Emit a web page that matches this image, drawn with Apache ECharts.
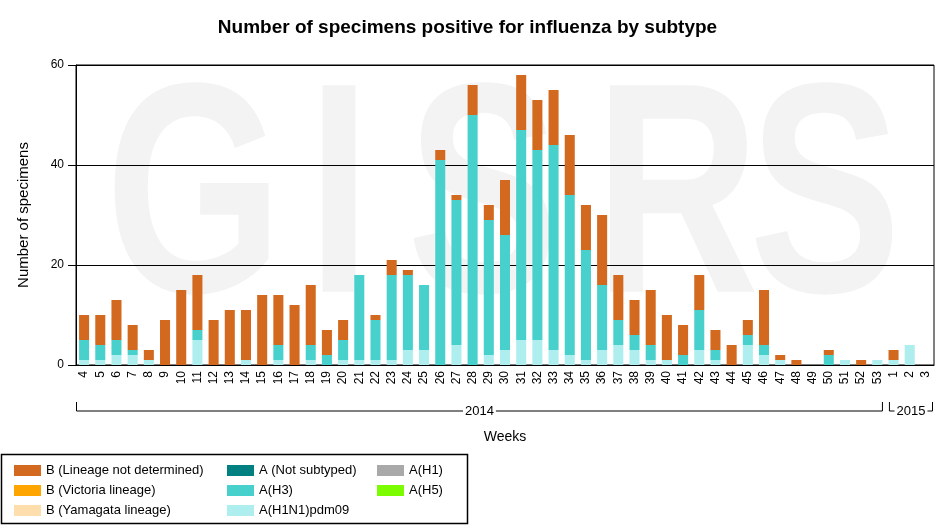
<!DOCTYPE html>
<html>
<head>
<meta charset="utf-8">
<script src="https://cdn.jsdelivr.net/npm/echarts@6/dist/echarts.min.js"></script>
<style>
  html, body { margin: 0; padding: 0; background: #fff; }
  #chart { width: 935px; height: 529px; }
</style>
</head>
<body>
<div id="chart"></div>
<script>
// ---- data ----
const weeks = ['4','5','6','7','8','9','10','11','12','13','14','15','16','17','18','19','20','21','22','23','24','25','26','27','28','29','30','31','32','33','34','35','36','37','38','39','40','41','42','43','44','45','46','47','48','49','50','51','52','53','1','2','3'];
const yearLabels = ['2014', '2015'];
const yearWeekCounts = [50, 3];

const pdm09 = [1,1,2,2,1,0,0,5,0,0,1,0,1,0,1,0,1,1,1,1,3,3,0,4,0,2,3,5,5,3,2,1,3,4,3,1,1,0,3,1,0,4,2,1,0,0,0,1,0,1,1,4,0];
const h3    = [4,3,3,1,0,0,0,2,0,0,0,0,3,0,3,2,4,17,8,17,15,13,41,29,50,27,23,42,38,41,32,22,13,5,3,3,0,2,8,2,0,2,2,0,0,0,2,0,0,0,0,0,0];
const bNotDetermined = [5,6,8,5,2,9,15,11,9,11,10,14,10,12,12,5,4,0,1,3,1,0,2,1,6,3,11,11,10,11,12,9,14,9,7,11,9,6,7,4,4,3,11,1,1,0,1,0,1,0,2,0,0];
const aNotSubtyped = [];
const aH1 = [];
const aH5 = [];
const bVictoria = [];
const bYamagata = [];

const yTicks = { min: 0, max: 60, interval: 20 };

const names = {
  bND: 'B (Lineage not determined)',
  bVic: 'B (Victoria lineage)',
  bYam: 'B (Yamagata lineage)',
  aNS: 'A (Not subtyped)',
  aH3: 'A(H3)',
  pdm: 'A(H1N1)pdm09',
  aH1: 'A(H1)',
  aH5: 'A(H5)'
};
const colors = {
  bND: '#d2691e', bVic: '#ffa500', bYam: '#ffdead',
  aNS: '#008080', aH3: '#48d1cc', pdm: '#afeeee',
  aH1: '#a9a9a9', aH5: '#7cfc00'
};

const FONT = 'Liberation Sans, Arial, sans-serif';
const chart = echarts.init(document.getElementById('chart'), null, { renderer: 'canvas' });

function bar(key, data) {
  return {
    name: names[key], type: 'bar', stack: 'total', data: data,
    barWidth: '62%',
    itemStyle: { color: colors[key] },
    emphasis: { disabled: true }
  };
}

const legendCommon = {
  orient: 'vertical', padding: 0, itemWidth: 27, itemHeight: 11, itemGap: 7,
  icon: 'rect', selectedMode: false, top: 464,
  textStyle: { fontSize: 13, color: '#000', fontFamily: FONT, lineHeight: 12 }
};

// watermark letters (decoration)
const wm = [['G',194],['I',339],['S',483],['R',677],['S',825]].map((l, i) => ({
  id: 'wm' + i, type: 'text', x: l[1], y: 209, z: -10, silent: true,
  scaleX: 0.76,
  style: { text: l[0], fontSize: 300, fontWeight: 'bold', fontFamily: FONT,
           fill: '#f3f3f3', align: 'center', verticalAlign: 'middle' }
}));

chart.setOption({
  animation: false,
  textStyle: { fontFamily: FONT },
  title: {
    text: 'Number of specimens positive for influenza by subtype',
    left: 'center', top: 18, padding: 0,
    textStyle: { fontSize: 19, fontWeight: 'bold', color: '#000', fontFamily: FONT }
  },
  grid: { left: 76, right: 1, top: 65, bottom: 164, show: true, borderColor: '#000', borderWidth: 1, backgroundColor: 'transparent' },
  legend: [
    Object.assign({ left: 14, data: [names.bND, names.bVic, names.bYam] }, legendCommon),
    Object.assign({ left: 227, data: [names.aNS, names.aH3, names.pdm] }, legendCommon),
    Object.assign({ left: 377, data: [names.aH1, names.aH5] }, legendCommon)
  ],
  xAxis: {
    type: 'category', data: weeks,
    name: 'Weeks', nameLocation: 'middle', nameGap: 65,
    nameTextStyle: { fontSize: 14, color: '#000' },
    axisLine: { lineStyle: { color: '#000' } },
    axisTick: { alignWithLabel: true, length: 5, lineStyle: { color: '#000' } },
    axisLabel: { rotate: 90, interval: 0, fontSize: 12, color: '#000', margin: 6 }
  },
  yAxis: {
    type: 'value', min: yTicks.min, max: yTicks.max, interval: yTicks.interval,
    name: 'Number of specimens', nameLocation: 'middle', nameGap: 45,
    nameTextStyle: { fontSize: 15, color: '#000' },
    axisLine: { show: true, lineStyle: { color: '#000' } },
    axisTick: { show: true, length: 8, lineStyle: { color: '#000' } },
    axisLabel: { fontSize: 12, color: '#000', margin: 12 },
    splitLine: { lineStyle: { color: '#000', width: 1 } }
  },
  series: [
    bar('pdm', pdm09),
    bar('aH3', h3),
    bar('aNS', aNotSubtyped),
    bar('aH1', aH1),
    bar('aH5', aH5),
    bar('bND', bNotDetermined),
    bar('bVic', bVictoria),
    bar('bYam', bYamagata)
  ],
  graphic: wm
});

// year brackets under the week labels, positioned from the axis scale
const c0 = chart.convertToPixel({ xAxisIndex: 0 }, 0);
const c1 = chart.convertToPixel({ xAxisIndex: 0 }, 1);
const bw = c1 - c0;
const lineY = 411, tickTop = 402;
const gfx = wm.slice();
gfx.push({
  id: 'legendBox', type: 'rect', silent: true,
  shape: { x: 1.5, y: 454.5, width: 466, height: 69 },
  style: { fill: 'none', stroke: '#000', lineWidth: 1.5 }
});
let start = 0;
yearLabels.forEach((yl, k) => {
  const n = yearWeekCounts[k];
  const left = chart.convertToPixel({ xAxisIndex: 0 }, start) - bw / 2 + (k === 0 ? 0.5 : 4);
  const right = chart.convertToPixel({ xAxisIndex: 0 }, start + n - 1) + bw / 2 - (k === yearLabels.length - 1 ? 1.5 : 3);
  const mid = (left + right) / 2;
  gfx.push({
    id: 'br' + k, type: 'polyline', silent: true,
    shape: { points: [[left, tickTop], [left, lineY], [right, lineY], [right, tickTop]] },
    style: { stroke: '#000', lineWidth: 1, fill: null }
  });
  gfx.push({
    id: 'yl' + k, type: 'text', silent: true, x: mid, y: lineY, z: 10,
    style: { text: yl, fontSize: 13, fontFamily: FONT, fill: '#000',
             align: 'center', verticalAlign: 'middle',
             backgroundColor: '#fff', padding: [0, 2] }
  });
  start += n;
});
chart.setOption({ graphic: gfx });
</script>
</body>
</html>
